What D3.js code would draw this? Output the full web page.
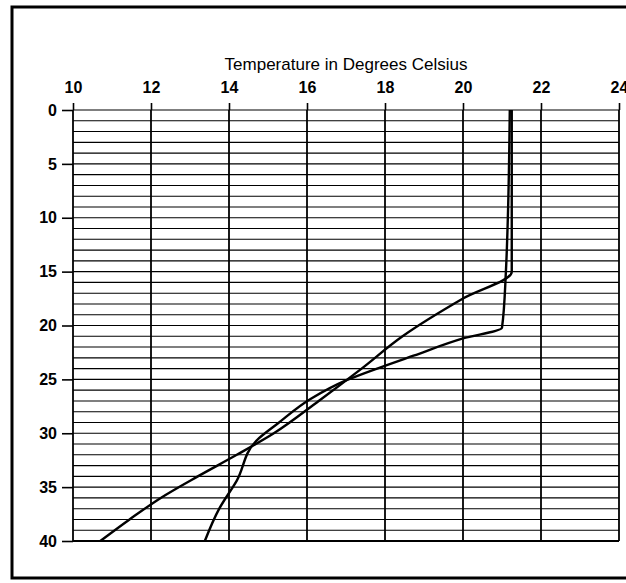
<!DOCTYPE html>
<html>
<head>
<meta charset="utf-8">
<script src="https://cdn.jsdelivr.net/npm/d3@7"></script>
<style>
  body { margin: 0; background: #fff; }
  svg { display: block; }
</style>
</head>
<body>
<svg id="chart" width="626" height="583"></svg>
<script>
// temperature axis (top) and depth axis (left)
const tempTicks = [10, 12, 14, 16, 18, 20, 22, 24];
const depthTicks = [0, 5, 10, 15, 20, 25, 30, 35, 40];
const depthGrid = d3.range(0, 41); // one grid line per metre

// profile bending at 15 m
const profileADepth = [0, 15, 17.5, 21, 24, 27, 30, 32, 34, 36, 38, 40];
const profileATemp = [21.25, 21.25, 20.0, 18.45, 17.4, 16.3, 15.15, 14.2, 13.2, 12.25, 11.45, 10.7];

// profile bending at 20 m
const profileBDepth = [0, 10, 15, 20.2, 21.2, 22.8, 23.9, 25.1, 26.8, 29.1, 30.7, 34.4, 37, 40];
const profileBTemp = [21.2, 21.15, 21.1, 21.0, 20.0, 18.73, 17.87, 17.0, 16.1, 15.25, 14.7, 14.2, 13.75, 13.38];

const svg = d3.select('#chart');

const x = d3.scaleLinear().domain([10, 24]).range([73, 619]);
const y = d3.scaleLinear().domain([0, 40]).range([110, 541]);

// frame
svg.append('rect')
    .attr('x', 12)
    .attr('y', 7)
    .attr('width', 640)
    .attr('height', 571)
    .attr('fill', 'none')
    .attr('stroke', '#000')
    .attr('stroke-width', 3);

// horizontal grid
svg.append('g')
    .selectAll('line')
    .data(depthGrid)
    .join('line')
    .attr('x1', x(10))
    .attr('x2', x(24))
    .attr('y1', d => y(d))
    .attr('y2', d => y(d))
    .attr('stroke', '#000')
    .attr('stroke-width', 1.1);

// vertical grid
svg.append('g')
    .selectAll('line')
    .data(tempTicks)
    .join('line')
    .attr('x1', d => x(d))
    .attr('x2', d => x(d))
    .attr('y1', y(0))
    .attr('y2', y(40))
    .attr('stroke', '#000')
    .attr('stroke-width', 1.8);

// bottom edge of plot
svg.append('line')
    .attr('x1', x(10))
    .attr('x2', x(24))
    .attr('y1', y(40))
    .attr('y2', y(40))
    .attr('stroke', '#000')
    .attr('stroke-width', 2);

const topAxis = svg.append('g')
    .attr('transform', `translate(0,${y(0)})`)
    .call(d3.axisTop(x).tickValues(tempTicks).tickSize(7).tickPadding(10));

const leftAxis = svg.append('g')
    .attr('transform', `translate(${x(10)},0)`)
    .call(d3.axisLeft(y).tickValues(depthTicks).tickSize(11).tickPadding(5));

[topAxis, leftAxis].forEach(g => {
    g.select('.domain').remove();
    g.selectAll('.tick line').attr('stroke', '#000').attr('stroke-width', 1.6);
    g.selectAll('.tick text')
        .attr('fill', '#000')
        .style('font-family', '"Liberation Sans", Arial, sans-serif')
        .style('font-size', '16px')
        .style('font-weight', 'bold');
});

svg.append('text')
    .attr('x', (x(10) + x(24)) / 2)
    .attr('y', 70)
    .attr('text-anchor', 'middle')
    .style('font-family', '"Liberation Sans", Arial, sans-serif')
    .style('font-size', '17px')
    .attr('fill', '#000')
    .text('Temperature in Degrees Celsius');

const line = d3.line()
    .curve(d3.curveMonotoneY)
    .x(d => x(d[1]))
    .y(d => y(d[0]));

const profiles = [
    d3.zip(profileADepth, profileATemp),
    d3.zip(profileBDepth, profileBTemp)
];

svg.append('g')
    .selectAll('path')
    .data(profiles)
    .join('path')
    .attr('d', line)
    .attr('fill', 'none')
    .attr('stroke', '#000')
    .attr('stroke-width', 2.4)
    .attr('stroke-linejoin', 'round');
</script>
</body>
</html>
